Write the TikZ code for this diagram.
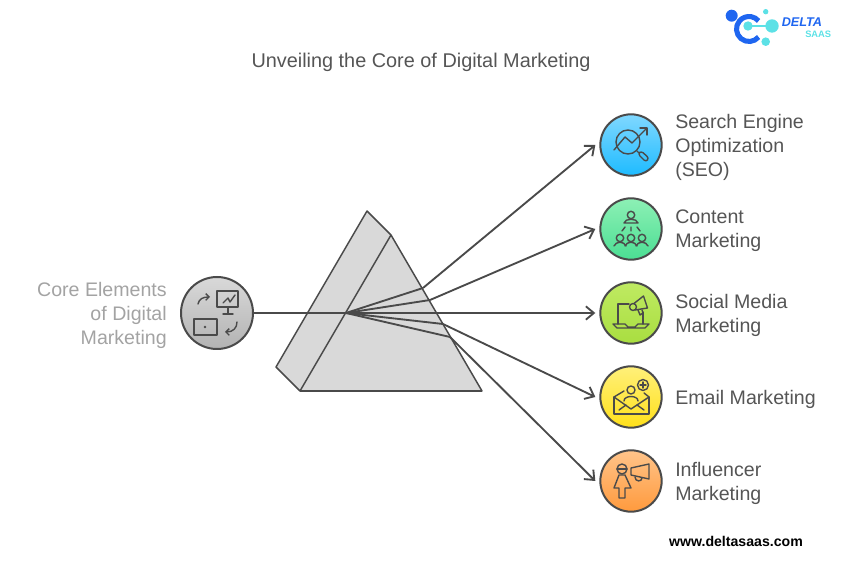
\documentclass[tikz,border=0pt]{standalone}
\usepackage{fontspec}
\setmainfont{Liberation Sans}
\usetikzlibrary{arrows.meta}
\definecolor{inkgrey}{HTML}{4A4A4A}
\definecolor{prismgrey}{HTML}{D9D9D9}
\definecolor{coretext}{HTML}{A3A3A3}
\definecolor{labelgrey}{HTML}{555555}
\definecolor{logoblue}{HTML}{1F66F0}
\definecolor{logocyan}{HTML}{5CE1E6}
\definecolor{seotop}{HTML}{80D8FF}
\definecolor{seobot}{HTML}{1EBBFF}
\definecolor{contenttop}{HTML}{8DF0B5}
\definecolor{contentbot}{HTML}{4BDE93}
\definecolor{socialtop}{HTML}{BFEA62}
\definecolor{socialbot}{HTML}{A9DE40}
\definecolor{emailtop}{HTML}{FFF07A}
\definecolor{emailbot}{HTML}{FFE01A}
\definecolor{influencertop}{HTML}{FFC48A}
\definecolor{influencerbot}{HTML}{FF9A3D}
\tikzset{
  topicdisc/.style={circle,draw=inkgrey,line width=1.5pt,minimum size=46pt,inner sep=0pt},
  topiclabel/.style={anchor=west,align=left,inner sep=0pt,text=labelgrey,font=\fontsize{14.7pt}{18pt}\selectfont},
  iconline/.style={draw=inkgrey,line width=1.05pt,line cap=round,line join=round},
  iconarrow/.style={iconline,-{Straight Barb[length=2.5pt,width=5pt,line width=1.05pt]}},
  rayline/.style={draw=inkgrey,line width=1.4pt},
  rayarrow/.style={rayline,-{Straight Barb[length=6pt,width=10pt,line width=1.4pt]}}
}
\begin{document}
\begin{tikzpicture}[x=0.75pt,y=-0.75pt]
\useasboundingbox (0,0) rectangle (854,566);

% Title and web address
\node[text=labelgrey,font=\fontsize{14.9pt}{18pt}\selectfont] (title) at (421,62.5) {Unveiling the Core of Digital Marketing};
\node[text=black,font=\fontsize{10.6pt}{13pt}\selectfont\bfseries] (website) at (736,541) {www.deltasaas.com};

% Prism
\coordinate (prismtop) at (367,211);
\coordinate (prismback) at (391,235);
\coordinate (prismright) at (482,391);
\coordinate (prismleft) at (300,391);
\coordinate (prismrear) at (276,367);
\coordinate (focus) at (346,313);
\coordinate (exita) at (423,288);
\coordinate (exitb) at (430,300);
\coordinate (exitc) at (443,324);
\coordinate (exitd) at (450,337);
\draw[fill=prismgrey,draw=inkgrey,line width=1.1pt,line join=round] (prismtop) -- (prismback) -- (prismright) -- (prismleft) -- (prismrear) -- cycle;
\draw[draw=inkgrey,line width=1.1pt] (prismback) -- (prismleft);
\draw[draw=inkgrey,line width=1.6pt] (prismleft) -- (prismright);

% Core disc and label
\node[topicdisc,minimum size=54pt,top color=prismgrey,bottom color=black!30] (core) at (217,313) {};
\node[anchor=east,align=right,inner sep=0pt,text=coretext,font=\fontsize{14.7pt}{18pt}\selectfont] (corelabel) at (167,315) {Core Elements\\of Digital\\Marketing};

% Topic discs
\node[topicdisc,top color=seotop,bottom color=seobot] (seo) at (631,145) {};
\node[topicdisc,top color=contenttop,bottom color=contentbot] (content) at (631,229) {};
\node[topicdisc,top color=socialtop,bottom color=socialbot] (social) at (631,313) {};
\node[topicdisc,top color=emailtop,bottom color=emailbot] (email) at (631,397) {};
\node[topicdisc,top color=influencertop,bottom color=influencerbot] (influencer) at (631,481) {};

% Topic labels
\node[topiclabel] (seolabel) at (675,147) {Search Engine\\Optimization\\(SEO)};
\node[topiclabel] (contentlabel) at (675,231) {Content\\Marketing};
\node[topiclabel] (sociallabel) at (675,315) {Social Media\\Marketing};
\node[topiclabel] (emaillabel) at (675,399) {Email Marketing};
\node[topiclabel] (influencerlabel) at (675,483) {Influencer\\Marketing};

% Rays through the prism
\draw[rayline] (core) -- (focus);
\draw[rayline] (focus) -- (exita);
\draw[rayline] (focus) -- (exitb);
\draw[rayline] (focus) -- (exitc);
\draw[rayline] (focus) -- (exitd);
\draw[rayarrow] (exita) -- ([xshift=-3pt]seo.west);
\draw[rayarrow] (exitb) -- ([xshift=-3pt]content.west);
\draw[rayarrow] (focus) -- ([xshift=-3pt]social.west);
\draw[rayarrow] (exitc) -- ([xshift=-3pt]email.west);
\draw[rayarrow] (exitd) -- ([xshift=-3pt]influencer.west);

% Icon for core
\begin{scope}[shift={(core.center)}]
\draw[iconline] (0,-22) rectangle (21,-6);
\draw[iconline] (6,-10) -- (11,-15) -- (13,-11) -- (18,-18);
\draw[iconline] (11,-6) -- (11,1) (6,1) -- (16,1);
\draw[iconline] (-23,6) rectangle (0,22);
\fill[inkgrey] (-12,14) circle (1.4);
\draw[iconarrow] (-19,-9) .. controls (-18,-14) and (-14,-16) .. (-7,-16);
\draw[iconarrow] (20,9) .. controls (20,15) and (16,19) .. (8,19);
\end{scope}

% Icon for seo
\begin{scope}[shift={(seo.center)}]
\draw[iconline] (-3,-3) circle (12);
\draw[iconline] (6,6) -- (8,8);
\draw[iconline,rounded corners=2pt] (10,6) -- (18,13) -- (15,17) -- (7,9) -- cycle;
\draw[iconline] (-17,5) -- (-6,-8) -- (1,-2) -- (15,-16);
\draw[iconline] (9,-17) -- (16,-17) -- (16,-10);
\end{scope}

% Icon for content
\begin{scope}[shift={(content.center)}]
\draw[iconline] (0,-14) circle (3.7);
\draw[iconline] (-7,-6) .. controls (-6,-11) and (6,-11) .. (7,-6) -- cycle;
\draw[iconline] (-6,-2) -- (-9,2) (0,-2) -- (0,2) (6,-2) -- (9,2);
\foreach \offx in {-11,0,11} {
  \draw[iconline] (\offx,9) circle (3.7);
  \draw[iconline] (\offx-6,17) .. controls (\offx-4,12) and (\offx+4,12) .. (\offx+6,17);
}
\end{scope}

% Icon for social
\begin{scope}[shift={(social.center)}]
\draw[iconline] (-13,11) -- (-13,-9) -- (-2,-9);
\draw[iconline] (12,-1) -- (12,11);
\draw[iconline] (-18,11) -- (-6,11) -- (-3,14) -- (4,14) -- (7,11) -- (18,11) -- (14,15) -- (-14,15) -- cycle;
\draw[iconline] (3,-9.5) -- (12.5,-17) -- (16.5,-5) -- (4,-3);
\draw[iconline] (2,-6) circle (3.5);
\draw[iconline] (7,-3) -- (9,2) -- (12,0) -- (11,-3);
\end{scope}

% Icon for email
\begin{scope}[shift={(email.center)}]
\draw[iconline] (-17,0) -- (-17,17) -- (18,17) -- (18,0);
\draw[iconline] (-17,0) -- (-7,-6) (-17,0) -- (0,12) -- (18,0) -- (13,-4);
\draw[iconline] (-12,13) -- (-5,8) (13,13) -- (6,8);
\draw[iconline] (0,-7) circle (4);
\draw[iconline] (-7,4) .. controls (-7,-2) and (7,-2) .. (7,4);
\draw[iconline] (12,-12) circle (5.5);
\draw[iconline] (9,-12) -- (15,-12) (12,-15) -- (12,-9);
\end{scope}

% Icon for influencer
\begin{scope}[shift={(influencer.center)}]
\draw[iconline] (-9,-12) circle (5);
\draw[iconline] (-14,-12) -- (-4,-12);
\draw[iconline] (-12,-6) -- (-6,-6) -- (0,7) -- (-6,7) -- (-6,17) -- (-12,17) -- (-12,7) -- (-17,7) -- cycle;
\draw[iconline] (0,-13) -- (18,-17) -- (18,-2) -- (0,-6) -- cycle;
\draw[iconline] (4,-4) .. controls (4,1) and (11,1) .. (11,-3);
\end{scope}

% Logo
\fill[logoblue] (731.7,15.7) circle (6);
\draw[logoblue,line width=3.8pt] (749,29) ++(40:12.5) arc[start angle=40,end angle=320,radius=12.5];
\fill[logocyan] (748,26) circle (4.7);
\fill[logocyan] (772,26) circle (6.7);
\draw[logocyan,line width=2pt] (748,26) -- (772,26);
\fill[logocyan] (765.7,11.7) circle (2.7);
\fill[logocyan] (765.7,41.7) circle (4.3);
\node[anchor=west,inner sep=0pt,text=logoblue,font=\fontsize{9.5pt}{10pt}\selectfont\bfseries\itshape] (logoname) at (781.5,22.5) {DELTA};
\node[anchor=west,inner sep=0pt,text=logocyan,font=\fontsize{7pt}{8pt}\selectfont\bfseries] (logosub) at (805,34) {SAAS};

\end{tikzpicture}
\end{document}
